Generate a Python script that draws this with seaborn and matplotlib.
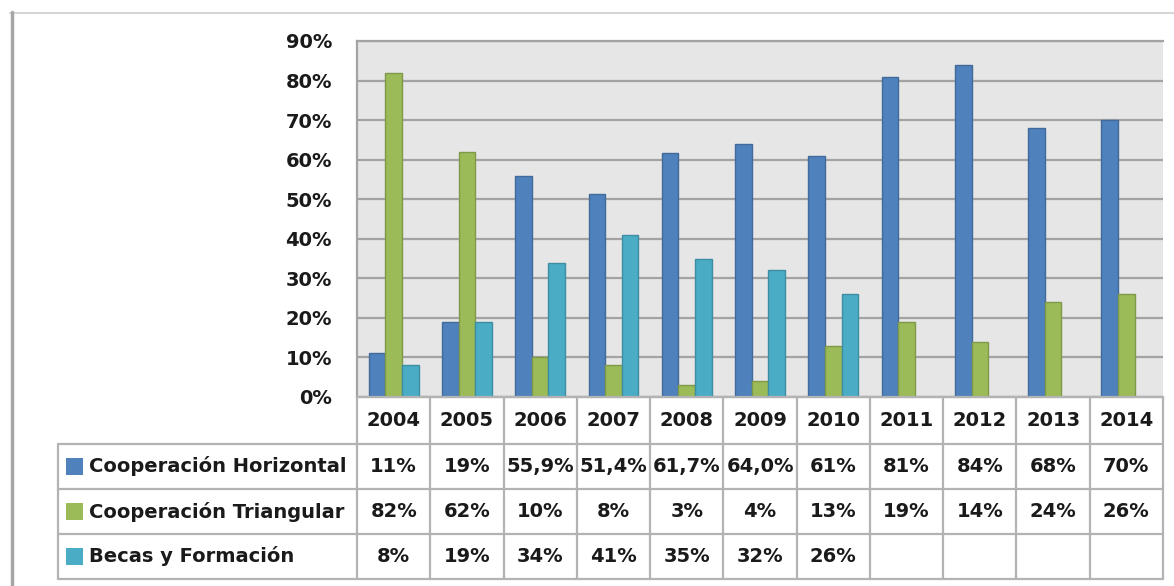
import numpy as np
import pandas as pd
import matplotlib
matplotlib.use("Agg")
import matplotlib.pyplot as plt
import seaborn as sns
from matplotlib.patches import Rectangle
from matplotlib.lines import Line2D

# ---- data -------------------------------------------------------------
years = ["2004", "2005", "2006", "2007", "2008", "2009",
         "2010", "2011", "2012", "2013", "2014"]
series = ["Cooperación Horizontal", "Cooperación Triangular", "Becas y Formación"]

horizontal = [11, 19, 55.9, 51.4, 61.7, 64.0, 61, 81, 84, 68, 70]
triangular = [82, 62, 10, 8, 3, 4, 13, 19, 14, 24, 26]
becas = [8, 19, 34, 41, 35, 32, 26, np.nan, np.nan, np.nan, np.nan]

# decimals shown in the data table for each year
horizontal_decimals = [0, 0, 1, 1, 1, 1, 0, 0, 0, 0, 0]
triangular_decimals = [0] * 11
becas_decimals = [0] * 11

y_ticks = [0, 10, 20, 30, 40, 50, 60, 70, 80, 90]
colors = ["#4F81BD", "#9BBB59", "#4BACC6"]

# ---- style --------------------------------------------------------------
sns.set_style("white")
plt.rcParams["font.family"] = ["DejaVu Sans"]
TEXT = "#1a1a1a"
GRID = "#a3a3a3"
BORDER = "#b3b3b3"
FS = 14

W, H = 1174, 586
fig = plt.figure(figsize=(W / 100, H / 100), dpi=100)
fig.patch.set_facecolor("white")

# plot area in pixel units
px_left, px_right, px_top, px_bottom = 357, 1163, 41, 397
ax = fig.add_axes([px_left / W, 1 - px_bottom / H,
                   (px_right - px_left) / W, (px_bottom - px_top) / H])

df = pd.DataFrame({
    "year": years * 3,
    "series": [series[0]] * 11 + [series[1]] * 11 + [series[2]] * 11,
    "value": horizontal + triangular + becas,
})

sns.barplot(data=df, x="year", y="value", hue="series", hue_order=series,
            order=years, palette=colors, saturation=1, width=0.68, gap=0,
            errorbar=None, legend=False, ax=ax, zorder=3)

for p in ax.patches:
    fc = np.array(p.get_facecolor())
    ec = fc.copy()
    ec[:3] = ec[:3] * 0.82
    p.set_edgecolor(ec)
    p.set_linewidth(1.0)

ax.set_facecolor("#e6e6e6")
ax.set_xlim(-0.5, len(years) - 0.5)
ax.set_ylim(0, 90)
ax.set_yticks(y_ticks)
ax.set_yticklabels([f"{t}%" for t in y_ticks], fontsize=FS,
                   fontweight="bold", color=TEXT)
ax.tick_params(axis="y", length=0, pad=18)
ax.tick_params(axis="x", bottom=False, labelbottom=False)
ax.set_xlabel("")
ax.set_ylabel("")
ax.yaxis.grid(True, color=GRID, lw=1.6)
ax.xaxis.grid(False)
ax.set_axisbelow(True)
for side in ["right"]:
    ax.spines[side].set_visible(False)
ax.spines["top"].set_color(GRID)
ax.spines["top"].set_linewidth(1.6)
ax.spines["left"].set_color(GRID)
ax.spines["left"].set_linewidth(1.6)
ax.spines["bottom"].set_color(BORDER)
ax.spines["bottom"].set_linewidth(1.6)

# ---- data table below the plot -----------------------------------------
tab = fig.add_axes([0, 0, 1, 1], facecolor="none")
tab.set_xlim(0, W)
tab.set_ylim(H, 0)
tab.axis("off")

n = len(years)
tbl_left = 58
col_w = (px_right - px_left) / n
rows_y = [397, 444, 489, 534, 579]
col_x = [px_left + i * col_w for i in range(n + 1)]
lw = 1.6

# header row (years)
tab.add_line(Line2D([px_left, px_right], [rows_y[0], rows_y[0]], color=BORDER, lw=lw))
for x in col_x:
    tab.add_line(Line2D([x, x], [rows_y[0], rows_y[-1]], color=BORDER, lw=lw))
for y in rows_y[1:]:
    tab.add_line(Line2D([tbl_left, px_right], [y, y], color=BORDER, lw=lw))
tab.add_line(Line2D([tbl_left, tbl_left], [rows_y[1], rows_y[-1]], color=BORDER, lw=lw))

for i, yr in enumerate(years):
    tab.text((col_x[i] + col_x[i + 1]) / 2, (rows_y[0] + rows_y[1]) / 2, yr,
             ha="center", va="center", fontsize=FS, fontweight="bold", color=TEXT)

table_rows = [(horizontal, horizontal_decimals),
              (triangular, triangular_decimals),
              (becas, becas_decimals)]

for r, ((vals, decs), name, col) in enumerate(zip(table_rows, series, colors)):
    yc = (rows_y[r + 1] + rows_y[r + 2]) / 2
    tab.add_patch(Rectangle((66, yc - 9), 17, 17, facecolor=col,
                            edgecolor="none"))
    tab.text(89, yc, name, ha="left", va="center", fontsize=FS,
             fontweight="bold", color=TEXT)
    for i, (v, d) in enumerate(zip(vals, decs)):
        if np.isnan(v):
            continue
        label = f"{v:.{d}f}%".replace(".", ",")
        tab.text((col_x[i] + col_x[i + 1]) / 2, yc, label, ha="center",
                 va="center", fontsize=FS, fontweight="bold", color=TEXT)

# outer chart frame
tab.add_line(Line2D([10, W], [13, 13], color="#d6d6d6", lw=1.5))
tab.add_line(Line2D([11.5, 11.5], [12, H], color="#a6a6a6", lw=2.5))

fig.savefig("out.png", dpi=100, facecolor="white")
